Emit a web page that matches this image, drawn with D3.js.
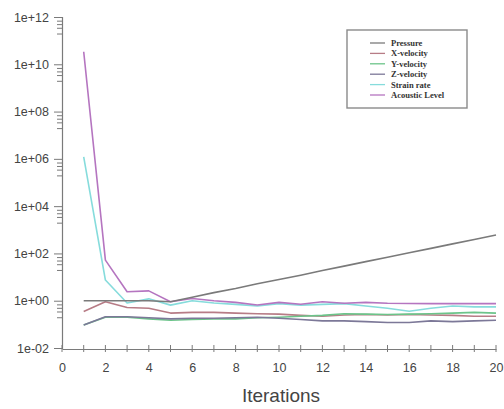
<!DOCTYPE html>
<html>
<head>
<meta charset="utf-8">
<script src="https://cdn.jsdelivr.net/npm/d3@7"></script>
<style>
  html, body { margin: 0; padding: 0; background: #fff; }
  svg { display: block; }
</style>
</head>
<body>
<svg id="chart" width="504" height="409"></svg>
<script>
// ---- data ----
const iterations = [1,2,3,4,5,6,7,8,9,10,11,12,13,14,15,16,17,18,19,20];
const seriesNames = ["Pressure","X-velocity","Y-velocity","Z-velocity","Strain rate","Acoustic Level"];
const pressure      = [1.0,1.0,1.0,1.0,0.9,1.4,2.2,3.3,5.2,7.9,12,19,29,45,69,107,164,254,391,600];
const xVelocity     = [0.35,0.9,0.52,0.48,0.3,0.32,0.32,0.3,0.28,0.27,0.24,0.22,0.25,0.26,0.25,0.26,0.25,0.24,0.22,0.22];
const yVelocity     = [0.093,0.2,0.2,0.17,0.15,0.16,0.17,0.17,0.19,0.2,0.22,0.24,0.28,0.27,0.26,0.27,0.28,0.3,0.32,0.3];
const zVelocity     = [0.093,0.21,0.21,0.19,0.17,0.18,0.18,0.19,0.2,0.18,0.16,0.14,0.14,0.13,0.12,0.12,0.14,0.13,0.14,0.15];
const strainRate    = [1.2e6,7.5,0.8,1.2,0.65,1.0,0.8,0.7,0.6,0.75,0.65,0.7,0.75,0.6,0.48,0.36,0.48,0.6,0.55,0.55];
const acousticLevel = [3.4e10,52,2.4,2.6,0.9,1.25,1.0,0.85,0.66,0.85,0.71,0.9,0.78,0.85,0.78,0.76,0.75,0.75,0.75,0.75];
const xTickValues = [0,2,4,6,8,10,12,14,16,18,20];
const yTickValues = [1e-2,1,1e2,1e4,1e6,1e8,1e10,1e12];
const yTickLabels = ["1e-02","1e+00","1e+02","1e+04","1e+06","1e+08","1e+10","1e+12"];
const xTitle = "Iterations";

// ---- styles ----
const colors = ["#7a7a7a","#b77c86","#6cc48a","#7c7898","#86dcdc","#b575c0"];
const seriesValues = [pressure,xVelocity,yVelocity,zVelocity,strainRate,acousticLevel];

const svg = d3.select("#chart");
const x = d3.scaleLinear().domain([0,20]).range([62,496]);
const y = d3.scaleLog().domain([1e-2,1e12]).range([348,17]);

const axisColor = "#7a7a7a";
const textColor = "#444";

// y axis
const yAxis = d3.axisLeft(y)
  .tickValues(yTickValues)
  .tickFormat((d,i) => yTickLabels[i])
  .tickSize(8).tickPadding(5);
const gy = svg.append("g").attr("transform","translate(62,0)").call(yAxis);
gy.select(".domain").attr("stroke",axisColor).attr("stroke-width",1.2);
gy.selectAll(".tick line").attr("stroke",axisColor);
gy.selectAll(".tick text").attr("fill",textColor)
  .style("font-family","Arial, 'Liberation Sans', sans-serif").style("font-size","12.5px");

// y minor ticks
const minorMult = [0.7,0.5,0.35,0.2];
const minorVals = [];
yTickValues.slice(1).forEach(v => minorMult.forEach(m => minorVals.push(v*m)));
svg.append("g").attr("transform","translate(62,0)")
  .call(d3.axisLeft(y).tickValues(minorVals).tickFormat("").tickSize(5))
  .call(g => { g.select(".domain").remove(); g.selectAll("line").attr("stroke",axisColor); });

// x axis
const gx = svg.append("g").attr("transform","translate(0,349)")
  .call(d3.axisBottom(x).tickValues(xTickValues).tickSize(0).tickPadding(14));
gx.select(".domain").attr("stroke",axisColor).attr("stroke-width",1.2);
gx.selectAll(".tick text").attr("fill",textColor)
  .style("font-family","Arial, 'Liberation Sans', sans-serif").style("font-size","12.5px");
// x ticks at every integer, crossing the axis
svg.append("g").selectAll("line").data(d3.range(0,21)).join("line")
  .attr("x1",d=>x(d)).attr("x2",d=>x(d))
  .attr("y1",345).attr("y2",352)
  .attr("stroke",axisColor).attr("stroke-width",1);

svg.append("text").attr("x",281).attr("y",402)
  .attr("text-anchor","middle").attr("fill",textColor)
  .style("font-family","Arial, 'Liberation Sans', sans-serif").style("font-size","19px")
  .text(xTitle);

// lines
const line = d3.line().x((d,i)=>x(iterations[i])).y(d=>y(d));
const drawOrder = [4,1,2,3,5,0];
drawOrder.forEach(k => {
  svg.append("path").datum(seriesValues[k])
    .attr("d",line).attr("fill","none")
    .attr("stroke",colors[k]).attr("stroke-width",1.6)
    .attr("stroke-linejoin","round");
});

// legend
const lg = svg.append("g");
lg.append("rect").attr("x",347).attr("y",30).attr("width",120).attr("height",78)
  .attr("fill","#fff").attr("stroke","#8a8a8a").attr("stroke-width",1.4);
seriesNames.forEach((n,i) => {
  const yy = 43 + i*10.4;
  lg.append("line").attr("x1",370).attr("x2",385).attr("y1",yy).attr("y2",yy)
    .attr("stroke",colors[i]).attr("stroke-width",1.3);
  lg.append("text").attr("x",391).attr("y",yy+3)
    .attr("fill","#333")
    .style("font-family","'Liberation Serif','Times New Roman',serif")
    .style("font-weight","bold").style("font-size","8.5px")
    .text(n);
});
</script>
</body>
</html>
